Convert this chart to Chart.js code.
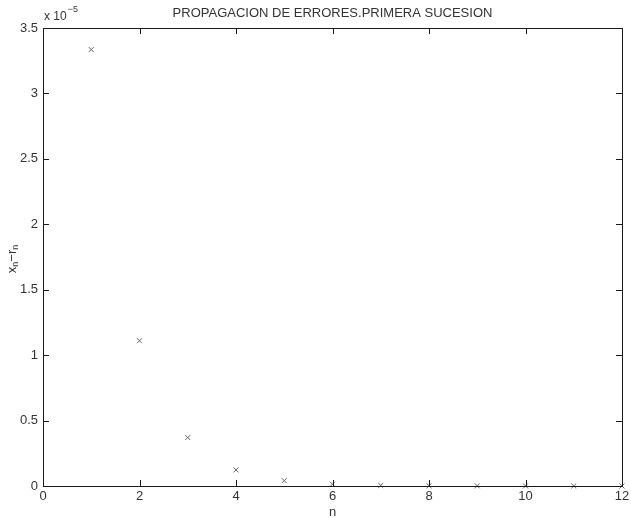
<!DOCTYPE html>
<html>
<head>
<meta charset="utf-8">
<script src="https://cdn.jsdelivr.net/npm/chart.js@4/dist/chart.umd.min.js"></script>
<style>html,body{margin:0;padding:0;background:#fff}</style>
</head>
<body>
<canvas id="chart" width="631" height="518"></canvas>
<script>
// values, y in units of 1e-5
const nValues = [1, 2, 3, 4, 5, 6, 7, 8, 9, 10, 11, 12];
const errValues = [3.335, 1.11, 0.37, 0.123, 0.041, 0.0137, 0.0046, 0.0015, 0.0005, 0.0002, 0.00006, 0.00002];
const xTickValues = [0, 2, 4, 6, 8, 10, 12];
const yTickValues = [0, 0.5, 1, 1.5, 2, 2.5, 3, 3.5];
const titleText = "PROPAGACION DE ERRORES.PRIMERA SUCESION";

const FONT = "'Liberation Sans', Arial, sans-serif";
const TXT = "#333";
const AXC = "#1a1a1a";

// box, inward ticks on all four sides, title and labels
const matlabAxes = {
  id: "matlabAxes",
  afterDraw(chart) {
    const ctx = chart.ctx;
    const a = chart.chartArea;
    const x = chart.scales.x, y = chart.scales.y;
    ctx.save();
    ctx.strokeStyle = AXC;
    ctx.lineWidth = 1;
    ctx.beginPath();
    ctx.moveTo(a.left + 0.5, a.top + 0.5); ctx.lineTo(a.right + 0.5, a.top + 0.5);
    ctx.lineTo(a.right + 0.5, a.bottom + 0.5); ctx.lineTo(a.left + 0.5, a.bottom + 0.5);
    ctx.closePath();
    ctx.stroke();
    const tl = 6;
    ctx.beginPath();
    xTickValues.forEach(v => {
      const px = Math.round(x.getPixelForValue(v)) + 0.5;
      ctx.moveTo(px, a.bottom); ctx.lineTo(px, a.bottom - tl);
      ctx.moveTo(px, a.top); ctx.lineTo(px, a.top + tl);
    });
    yTickValues.forEach(v => {
      const py = Math.round(y.getPixelForValue(v)) + 0.5;
      ctx.moveTo(a.left, py); ctx.lineTo(a.left + tl, py);
      ctx.moveTo(a.right, py); ctx.lineTo(a.right - tl, py);
    });
    ctx.stroke();

    ctx.fillStyle = TXT;
    ctx.textBaseline = "middle";
    ctx.textAlign = "center";
    ctx.font = "13px " + FONT;
    ctx.fillText(titleText, (a.left + a.right) / 2, 13);
    ctx.fillText("n", (a.left + a.right) / 2, 512);

    // exponent label
    ctx.textAlign = "left";
    ctx.font = "12px " + FONT;
    ctx.fillText("x 10", a.left + 1, 17);
    const w = ctx.measureText("x 10").width;
    ctx.font = "9px " + FONT;
    ctx.fillText("\u22125", a.left + 1 + w + 1, 10);

    // y label x_n - r_n, rotated
    ctx.translate(13, 259);
    ctx.rotate(-Math.PI / 2);
    const parts = [["x", 0, 13], ["n", 4, 9], ["\u2212r", 0, 13], ["n", 4, 9]];
    let total = 0;
    parts.forEach(p => { ctx.font = p[2] + "px " + FONT; total += ctx.measureText(p[0]).width; });
    let cx = -total / 2;
    parts.forEach(p => {
      ctx.font = p[2] + "px " + FONT;
      ctx.fillText(p[0], cx, p[1] - 1);
      cx += ctx.measureText(p[0]).width;
    });
    ctx.restore();
  }
};

new Chart(document.getElementById("chart"), {
  type: "scatter",
  data: {
    datasets: [{
      data: nValues.map((n, i) => ({ x: n, y: errValues[i] })),
      pointStyle: "crossRot",
      pointRadius: 3.5,
      pointBorderWidth: 1,
      borderColor: "#666",
      backgroundColor: "#666",
      clip: false
    }]
  },
  options: {
    responsive: false,
    animation: false,
    events: [],
    layout: { padding: { top: 28, right: 9, left: 0, bottom: 0 } },
    plugins: { legend: { display: false }, tooltip: { enabled: false }, title: { display: false } },
    scales: {
      x: {
        type: "linear",
        min: 0, max: 12,
        afterBuildTicks: s => { s.ticks = xTickValues.map(v => ({ value: v })); },
        afterFit: s => { s.height = 32; s.paddingLeft = 0; s.paddingRight = 0; },
        grid: { display: false, drawTicks: false, tickLength: 0 },
        border: { display: false },
        ticks: { color: TXT, font: { family: FONT, size: 13 }, padding: 3, maxRotation: 0, callback: v => String(v) }
      },
      y: {
        min: 0, max: 3.5,
        afterBuildTicks: s => { s.ticks = yTickValues.map(v => ({ value: v })); },
        afterFit: s => { s.width = 43; s.paddingTop = 0; s.paddingBottom = 0; },
        grid: { display: false, drawTicks: false, tickLength: 0 },
        border: { display: false },
        ticks: { color: TXT, font: { family: FONT, size: 13 }, padding: 5, callback: v => String(v) }
      }
    }
  },
  plugins: [matlabAxes]
});
</script>
</body>
</html>
